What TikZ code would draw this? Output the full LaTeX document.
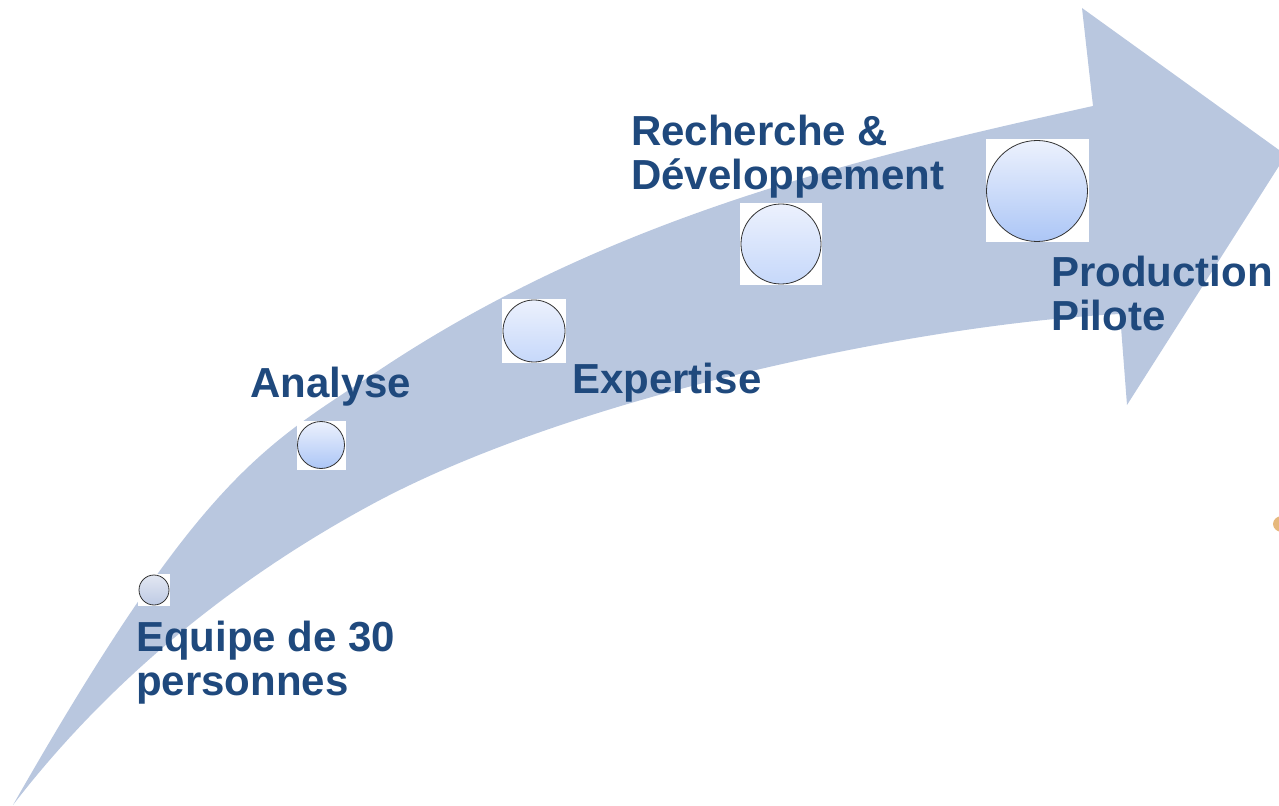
\documentclass[tikz,border=0pt]{standalone}
\usepackage{fontspec}
\setmainfont{Liberation Sans}
\definecolor{arrowfill}{RGB}{185,199,223}
\definecolor{labelblue}{RGB}{31,73,125}
\definecolor{bubbletop}{RGB}{236,241,253}
\definecolor{bubblebottom}{RGB}{172,198,246}
\definecolor{bubblepale}{RGB}{198,216,250}
\definecolor{bubblegreytop}{RGB}{226,231,242}
\definecolor{bubblegrey}{RGB}{190,202,228}
\definecolor{bubbleline}{RGB}{50,50,50}
\definecolor{orangebit}{RGB}{222,160,80}
\begin{document}
\begin{tikzpicture}[x=0.75pt,y=-0.75pt,
  label/.style={text=labelblue, font=\bfseries\fontsize{31.5}{33}\selectfont, align=left, inner sep=0pt, anchor=base west},
  bubblebox/.style={fill=white, draw=none, inner sep=0pt, minimum size=#1},
  bubble/.style={circle, draw=bubbleline, line width=0.6pt, top color=bubbletop, bottom color=bubblebottom, inner sep=0pt, minimum size=#1}]
\useasboundingbox (0,0) rectangle (1279,806);
\clip (0,0) rectangle (1279,806);
% the big curved arrow
\fill[arrowfill]
  (13,805) .. controls (203,472) and (264,446) .. (384,367)
           .. controls (614,215) and (863,157) .. (1093,106)
  -- (1082,8) -- (1286,155) -- (1127,405) -- (1120,314)
  .. controls (920,324) and (567,397) .. (367,507)
  .. controls (257,567) and (123,662) .. (13,805)
  -- cycle;
% small orange fragment at the right edge
\fill[orangebit, opacity=0.75] (1282,524) ellipse [x radius=9, y radius=8];
% bubbles
\node[bubblebox=32*0.75pt] (b1) at (154,590) {};
\node[bubble=30*0.75pt, top color=bubblegreytop, bottom color=bubblegrey] (c1) at (154,590) {};
\node[bubblebox=49*0.75pt] (b2) at (321,445) {};
\node[bubble=47*0.75pt] (c2) at (321,445) {};
\node[bubblebox=64*0.75pt] (b3) at (534,331) {};
\node[bubble=62*0.75pt, bottom color=bubblepale] (c3) at (534,331) {};
\node[bubblebox=82*0.75pt] (b4) at (781,244) {};
\node[bubble=80*0.75pt, bottom color=bubblepale] (c4) at (781,244) {};
\node[bubblebox=103*0.75pt] (b5) at (1037,191) {};
\node[bubble=101*0.75pt] (c5) at (1037,191) {};
% labels (anchor on the baseline of the last line)
\node[label] (t1) at (136,695) {Equipe de 30\\personnes};
\node[label] (t2) at (250,397) {Analyse};
\node[label] (t3) at (572,393) {Expertise};
\node[label] (t4) at (631,190) {Recherche \&\\Développement};
\node[label] (t5) at (1051,330) {Production\\Pilote};
\end{tikzpicture}
\end{document}
